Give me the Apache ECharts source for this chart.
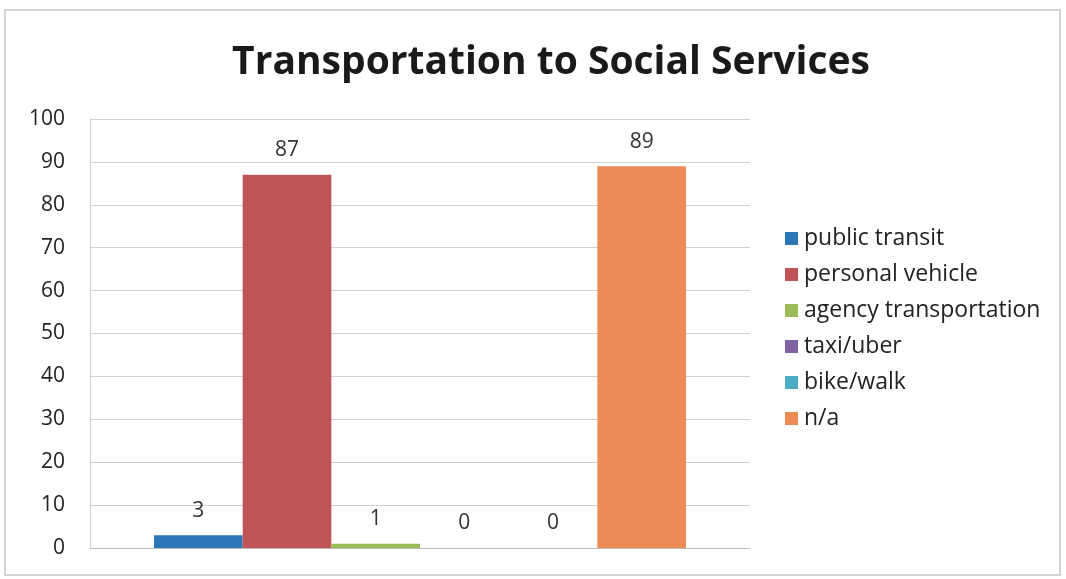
<!DOCTYPE html>
<html>
<head>
<meta charset="utf-8">
<script src="https://cdn.jsdelivr.net/npm/echarts@6/dist/echarts.min.js"></script>
<style>
  html, body { margin: 0; padding: 0; background: #fff; }
  #main { width: 1066px; height: 579px; }
</style>
</head>
<body>
<div id="main"></div>
<script>
// data
var categories = [''];
var seriesNames = ['public transit', 'personal vehicle', 'agency transportation', 'taxi/uber', 'bike/walk', 'n/a'];
var seriesValues = [[3], [87], [1], [0], [0], [89]];
var seriesColors = ['#2c77b8', '#bf5356', '#9bbb59', '#8064a2', '#4bacc6', '#ec8b55'];
var yTicks = [0, 100, 10]; // min, max, step

var myChart = echarts.init(document.getElementById('main'));

var option = {
    backgroundColor: '#fff',
    animation: false,
    title: {
        text: 'Transportation to Social Services',
        left: 546,
        top: 38,
        textAlign: 'center',
        textStyle: {
            fontFamily: 'Open Sans',
            fontWeight: 'bold',
            fontSize: 39,
            color: '#1a1a1a'
        }
    },
    graphic: [{
        type: 'rect',
        shape: { x: 5, y: 10, width: 1055, height: 565 },
        style: { fill: 'none', stroke: '#c8c8c8', lineWidth: 1.5 },
        silent: true
    }],
    legend: {
        orient: 'vertical',
        left: 780,
        top: 222,
        itemWidth: 13,
        itemHeight: 13,
        itemGap: 13,
        icon: 'rect',
        data: seriesNames,
        textStyle: {
            fontFamily: 'Open Sans',
            fontSize: 23,
            color: '#222',
            padding: [0, 0, 0, 1]
        }
    },
    grid: {
        left: 90,
        right: 316,
        top: 119,
        bottom: 31,
        containLabel: false
    },
    xAxis: {
        type: 'category',
        data: categories,
        axisTick: { show: false },
        axisLabel: { show: false },
        axisLine: { lineStyle: { color: '#bdbdbd', width: 1 } }
    },
    yAxis: {
        type: 'value',
        min: yTicks[0],
        max: yTicks[1],
        interval: yTicks[2],
        axisLine: { show: true, lineStyle: { color: '#cfcfcf' } },
        axisTick: { show: false },
        axisLabel: {
            margin: 25,
            fontFamily: 'Open Sans',
            fontSize: 21,
            color: '#222'
        },
        splitLine: { lineStyle: { color: '#d0d0d0', width: 1 } }
    },
    series: function () {
        var serie = [];
        for (var i = 0; i < seriesNames.length; i++) {
            serie.push({
                name: seriesNames[i],
                type: 'bar',
                data: seriesValues[i],
                barGap: '0%',
                barCategoryGap: '19.4%',
                itemStyle: { color: seriesColors[i] },
                label: {
                    show: true,
                    position: 'top',
                    distance: 14,
                    fontFamily: 'Open Sans',
                    fontSize: 21,
                    color: '#333'
                }
            });
        }
        return serie;
    }()
};

myChart.setOption(option);
</script>
</body>
</html>
